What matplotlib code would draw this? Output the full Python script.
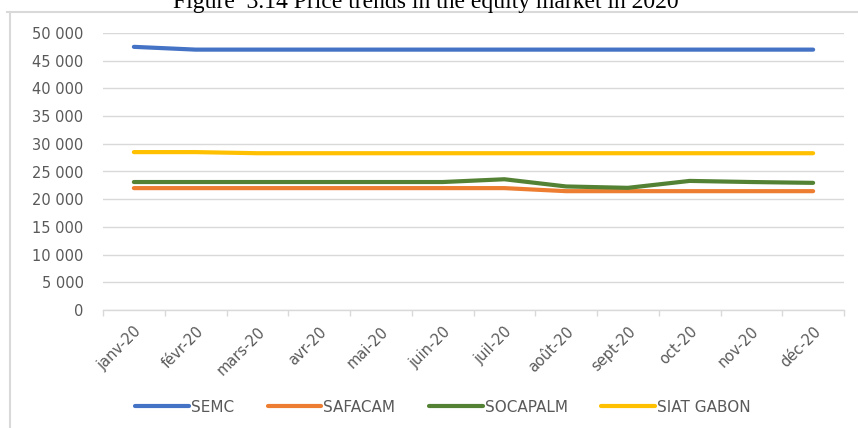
import numpy as np
import matplotlib
matplotlib.use("Agg")
import matplotlib.pyplot as plt
from matplotlib.lines import Line2D
from matplotlib.ticker import FuncFormatter, MultipleLocator

months = ["janv-20", "févr-20", "mars-20", "avr-20", "mai-20", "juin-20",
          "juil-20", "août-20", "sept-20", "oct-20", "nov-20", "déc-20"]
semc = [47500, 47000, 47000, 47000, 47000, 47000, 47000, 47000, 47000, 47000, 47000, 47000]
safacam = [22000, 22000, 22000, 22000, 22000, 22000, 22000, 21450, 21450, 21450, 21450, 21450]
socapalm = [23100, 23100, 23100, 23100, 23100, 23100, 23600, 22300, 22050, 23300, 23100, 22950]
siat_gabon = [28500, 28500, 28300, 28300, 28300, 28300, 28300, 28300, 28300, 28300, 28300, 28300]

names = ["SEMC", "SAFACAM", "SOCAPALM", "SIAT GABON"]
colors = ["#4472C4", "#ED7D31", "#548235", "#FFC000"]
txt = "#595959"
grid = "#d9d9d9"

plt.rcParams["font.family"] = "DejaVu Sans"

fig = plt.figure(figsize=(8.58, 4.28), dpi=100)
ax = fig.add_axes([103 / 858, 1 - 310 / 428, (844 - 103) / 858, (310 - 33) / 428])

x = np.arange(len(months))
for vals, name, c in zip([semc, safacam, socapalm, siat_gabon], names, colors):
    ax.plot(x, vals, color=c, lw=3, solid_capstyle="round", label=name)

ax.set_xlim(-0.5, len(months) - 0.5)
ax.set_ylim(0, 50000)
ax.yaxis.set_major_locator(MultipleLocator(5000))
ax.yaxis.set_major_formatter(FuncFormatter(lambda v, p: f"{int(v):,}".replace(",", " ")))
ax.grid(axis="y", color=grid, lw=1)
ax.set_axisbelow(True)
for s in ["left", "right", "top"]:
    ax.spines[s].set_visible(False)
ax.spines["bottom"].set_color(grid)
ax.spines["bottom"].set_linewidth(1)

ax.set_xticks(x)
ax.set_xticklabels(months, rotation=45, ha="right", rotation_mode="anchor")
ax.set_xticks(np.arange(-0.5, len(months)), minor=True)
ax.tick_params(axis="x", which="major", length=0, pad=10, labelsize=10.5, labelcolor=txt)
ax.tick_params(axis="x", which="minor", length=4, color=grid, width=1)
ax.tick_params(axis="y", length=0, pad=14, labelsize=10.5, labelcolor=txt)

leg = fig.legend(loc="center", bbox_to_anchor=(443 / 858, 1 - 407 / 428), ncol=4,
                 frameon=False, handlelength=3.5, handletextpad=0.15, columnspacing=2.2,
                 fontsize=11)
for t in leg.get_texts():
    t.set_color(txt)

# chart frame
fig.add_artist(Line2D([7 / 858, 1], [1 - 12 / 428] * 2, color=grid, lw=1.5))
fig.add_artist(Line2D([10 / 858] * 2, [0, 1 - 12 / 428], color=grid, lw=1.5))

fig.text(426 / 858, 1 - 8 / 428, "Figure  3.14 Price trends in the equity market in 2020",
         family="Liberation Serif", fontsize=17, ha="center", va="baseline", color="black")

fig.savefig("out.png", dpi=100)
